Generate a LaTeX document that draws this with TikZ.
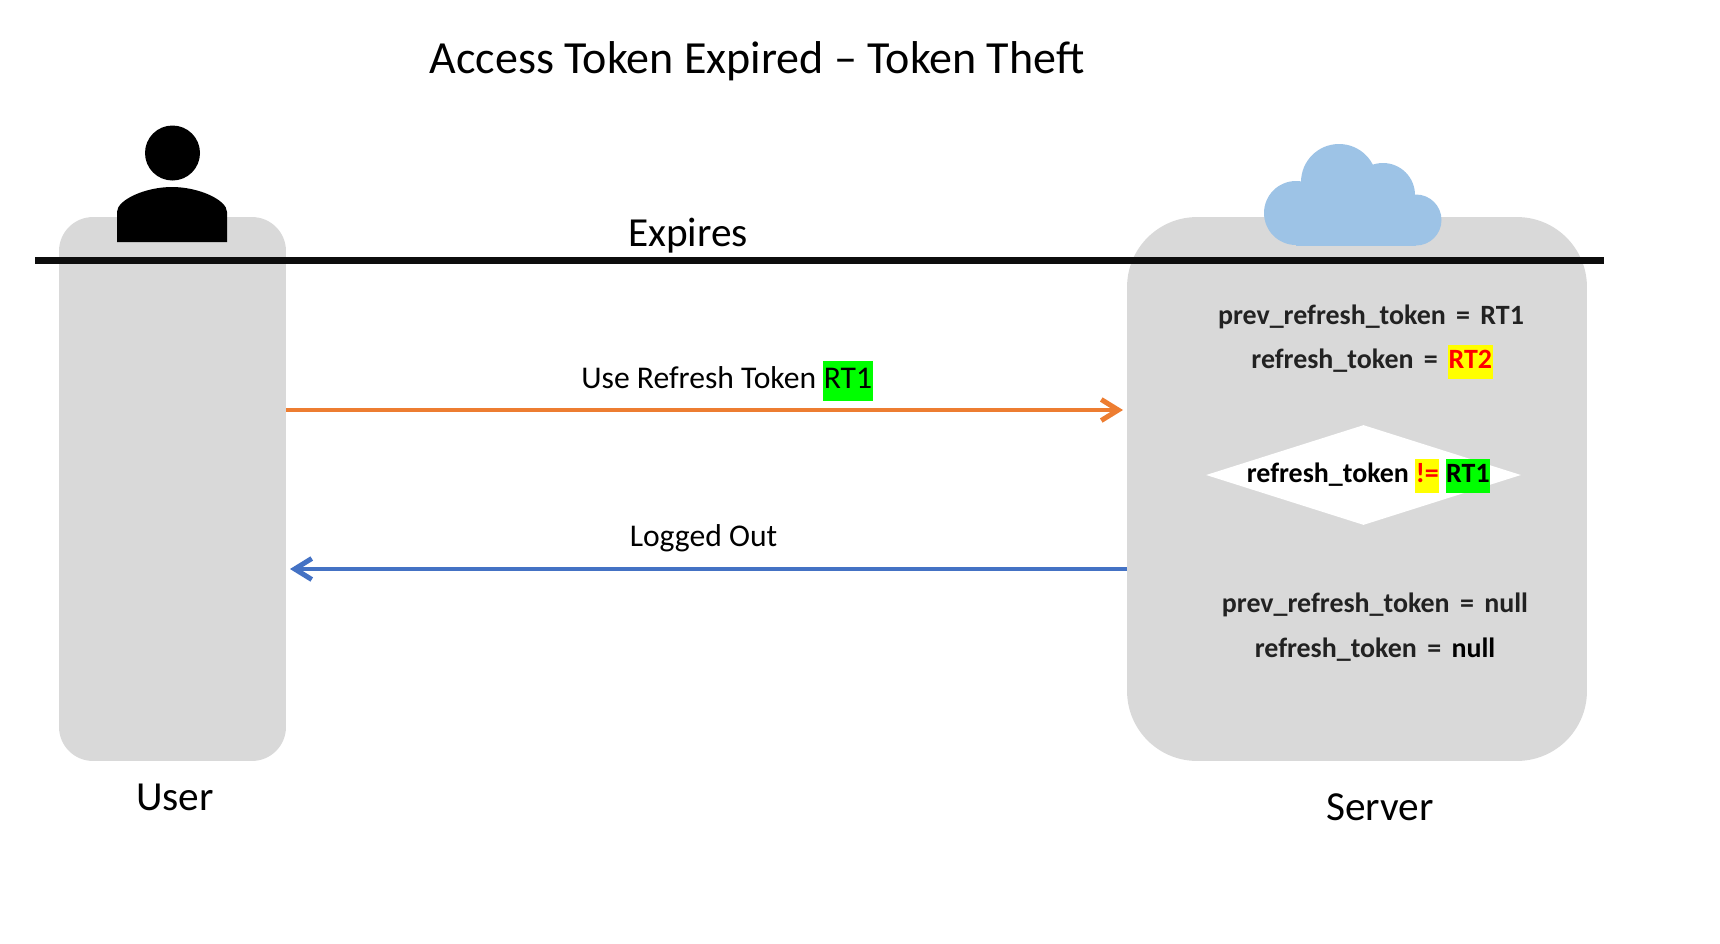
\documentclass[tikz,border=0pt]{standalone}
\usepackage{fontspec}
\setmainfont{Carlito}
\usepackage{xcolor}
\usetikzlibrary{arrows.meta,shapes.geometric}
\definecolor{panelgray}{HTML}{D9D9D9}
\definecolor{cloudblue}{HTML}{9DC3E6}
\definecolor{reqorange}{HTML}{ED7D31}
\definecolor{respblue}{HTML}{4472C4}
\definecolor{statetext}{HTML}{222222}
\definecolor{hlgreen}{HTML}{00FF00}
\definecolor{hlyellow}{HTML}{FFFF00}
\newcommand*{\hlbox}[2]{{\setlength{\fboxsep}{.3pt}\colorbox{#1}{\strut #2}}}
\newcommand*{\eqgap}{\hspace{.37em}=\hspace{.37em}}
\tikzset{
panel/.style={fill=panelgray,inner sep=0pt},
titletext/.style={font=\fontsize{26.2}{31}\selectfont,inner sep=0pt},
captiontext/.style={font=\fontsize{23.5}{28}\selectfont,inner sep=0pt},
msgtext/.style={font=\fontsize{18}{22}\selectfont,inner sep=0pt},
statenode/.style={font=\fontsize{15.9}{19}\selectfont\bfseries,text=statetext,inner sep=0pt},
msgline/.style={line width=.095cm,arrows={-Straight Barb[length=.34cm,width=.42cm,line width=.1cm]}}
}
\begin{document}
\begin{tikzpicture}[x=.02cm,y=-.02cm]
\useasboundingbox(0,0)rectangle(1720,943);
%\draw[help lines](0,0)grid[step=100](1720,943);
% panels
\node[panel,rounded corners=.68cm,minimum width=4.54cm,minimum height=10.88cm](userbox)at(172.5,489){};
\node[panel,rounded corners=1.4cm,minimum width=9.2cm,minimum height=10.88cm](serverbox)at(1357,489){};
% person
\fill(172.5,153)circle[radius=27.5];
\fill(117,242)--(117,212).. controls (117,200) and (145,187) .. (172,187).. controls (199,187) and (227,200) .. (227,212)--(227,242)--cycle;
% cloud
\foreach\cx/\cy/\cr in{1296/213/32,1339/182/38,1383/195/32,1416/220/25.5}
\fill[cloudblue](\cx,\cy)circle[radius=\cr];
\fill[cloudblue](1296,195)rectangle(1416,245.5);
\node[titletext](title)at(757,61){Access Token Expired – Token Theft};
\node[captiontext](expires)at(688,236){Expires};
\coordinate(expiryleft)at(35,260);
\coordinate(expiryright)at(1604,260);
\draw[line width=.14cm,black!95](expiryleft)--(expiryright);
\node[captiontext](usercaption)at(175,797){User};
\node[captiontext](servercaption)at(1380,807){Server};
% messages
\coordinate(reqstart)at(userbox.east|-0,410);
\coordinate(reqend)at(1123,410);
\draw[msgline,reqorange](reqstart)--(reqend);
\coordinate(respstart)at(serverbox.west|-0,569);
\coordinate(respend)at(290,569);
\draw[msgline,respblue](respstart)--(respend);
\node[msgtext](reqlabel)at(727,381){Use Refresh Token \hlbox{hlgreen}{RT1}};
\node[msgtext](resplabel)at(703.5,538){Logged Out};
% server state
\node[statenode](prevone)at(1371,317){prev\_refresh\_token\eqgap RT1};
\node[statenode](currone)at(1372,362){refresh\_token\eqgap\hlbox{hlyellow}{\textcolor{red}{RT2}}};
\node[diamond,fill=white,aspect=3.15,inner sep=0pt,minimum width=6.3cm,minimum height=2cm](check)at(1363.5,475){};
\node[statenode,text=black](checktext)at(1368.5,476){refresh\_token \hlbox{hlyellow}{\textcolor{red}{!=}} \hlbox{hlgreen}{RT1}};
\node[statenode](prevtwo)at(1375,605){prev\_refresh\_token\eqgap null};
\node[statenode](currtwo)at(1375,650){refresh\_token\eqgap\textcolor{black}{null}};
\end{tikzpicture}
\end{document}
